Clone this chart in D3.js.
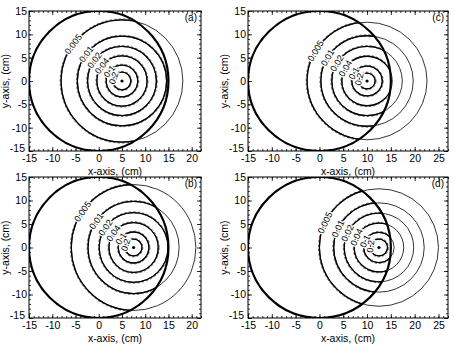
<!DOCTYPE html>
<html><head><meta charset="utf-8">
<script src="https://cdn.jsdelivr.net/npm/d3@7"></script>
<style>
body{margin:0;background:#fff}
svg{display:block}
text{font-family:Arial,"Liberation Sans",sans-serif;fill:#000}
</style>
</head><body>
<svg id="chart" width="455" height="346"></svg>
<script>
// ---------------- data ----------------
const panelLabels = ["(a)", "(b)", "(c)", "(d)"];
const sourceX = [5, 7.5, 10, 12.5];              // centre of the concentric contours (cm)
const contourLevels = ["0.005", "0.01", "0.02", "0.04", "0.1", "0.2"];
const radiiA = [13.1, 9.6, 7.4, 5.4, 3.4, 1.9];
const radiiB = [13.4, 9.8, 7.4, 5.3, 3.3, 1.8];
const radiiC = [12.6, 9.7, 7.4, 5.3, 3.2, 1.7];
const radiiD = [12.5, 9.5, 7.3, 5.2, 3.2, 1.8];
const panelRadii = [radiiA, radiiB, radiiC, radiiD];
const boundaryRadius = 15;                       // thick circle centred at origin
const xTicksNarrow = [-15, -10, -5, 0, 5, 10, 15, 20];
const xTicksWide = [-15, -10, -5, 0, 5, 10, 15, 20, 25];
const yTicks = [-15, -10, -5, 0, 5, 10, 15];
const xAxisTitle = "x-axis, (cm)";
const yAxisTitle = "y-axis, (cm)";

// ---------------- layout ----------------
const layout = [
  {L: 29,  R: 201, T: 11,  B: 151, xmax: 22, ticks: xTicksNarrow, angle: 143},
  {L: 29,  R: 201, T: 177, B: 318, xmax: 22, ticks: xTicksNarrow, angle: 145},
  {L: 248, R: 448, T: 11,  B: 151, xmax: 27, ticks: xTicksWide,   angle: 149},
  {L: 248, R: 448, T: 177, B: 318, xmax: 27, ticks: xTicksWide,   angle: 155}
];

const svg = d3.select("#chart");
const defs = svg.append("defs");

layout.forEach((p, i) => {
  const x = d3.scaleLinear().domain([-15, p.xmax]).range([p.L, p.R]);
  const y = d3.scaleLinear().domain([-15, 15]).range([p.B, p.T]);
  const g = svg.append("g");

  defs.append("clipPath").attr("id", "plot" + i)
    .append("rect").attr("x", p.L).attr("y", p.T).attr("width", p.R - p.L).attr("height", p.B - p.T);
  defs.append("clipPath").attr("id", "inside" + i)
    .append("ellipse").attr("cx", x(0)).attr("cy", y(0))
    .attr("rx", x(boundaryRadius) - x(0)).attr("ry", y(0) - y(boundaryRadius));

  const plot = g.append("g").attr("clip-path", `url(#plot${i})`);
  const radii = panelRadii[i];
  const cx = sourceX[i];
  const rx = r => x(cx + r) - x(cx);
  const ry = r => y(0) - y(r);

  // analytic (solid) circles
  plot.selectAll("ellipse.sol").data(radii).join("ellipse")
    .attr("class", "sol")
    .attr("cx", x(cx)).attr("cy", y(0))
    .attr("rx", rx).attr("ry", ry)
    .attr("fill", "none").attr("stroke", "#000").attr("stroke-width", 0.8);

  // numerical (dashed) contours inside the boundary, overlapping the solid ones
  const inner = plot.append("g").attr("clip-path", `url(#inside${i})`);
  inner.selectAll("ellipse.in").data(radii).join("ellipse")
    .attr("class", "in")
    .attr("cx", x(cx)).attr("cy", y(0))
    .attr("rx", rx).attr("ry", ry)
    .attr("fill", "none").attr("stroke", "#000").attr("stroke-width", 1.3);
  inner.selectAll("ellipse.dash").data(radii).join("ellipse")
    .attr("class", "dash")
    .attr("cx", x(cx)).attr("cy", y(0))
    .attr("rx", r => rx(r) + 0.9).attr("ry", r => ry(r) + 0.9)
    .attr("fill", "none").attr("stroke", "#222").attr("stroke-width", 0.7)
    .attr("stroke-dasharray", "2.5,2");

  // boundary circle
  plot.append("ellipse")
    .attr("cx", x(0)).attr("cy", y(0))
    .attr("rx", x(boundaryRadius) - x(0)).attr("ry", y(0) - y(boundaryRadius))
    .attr("fill", "none").attr("stroke", "#000").attr("stroke-width", 2.2);

  // source point
  plot.append("circle").attr("cx", x(cx)).attr("cy", y(0)).attr("r", 1.6).attr("fill", "#000");

  // contour labels (tangent to circles)
  const a = p.angle * Math.PI / 180;
  plot.selectAll("text.lab").data(radii).join("text")
    .attr("class", "lab")
    .attr("transform", (r, k) => {
      const ang = k === radii.length - 1 ? a + 0.3 : a;
      const px = x(cx + r * Math.cos(ang)), py = y(r * Math.sin(ang));
      return `translate(${px},${py}) rotate(${90 - ang * 180 / Math.PI})`;
    })
    .attr("text-anchor", "middle").attr("dy", "0.35em")
    .attr("font-size", 9)
    .attr("stroke", "#fff").attr("stroke-width", 2.5).attr("paint-order", "stroke")
    .text((r, k) => contourLevels[k]);

  // axes: major & minor, inward, on all sides
  const minorX = d3.range(-15, p.xmax + 0.001, 1);
  const minorY = d3.range(-15, 15.001, 1);
  const fmt = d => d3.format("d")(d).replace("\u2212", "-");

  g.append("g").attr("transform", `translate(0,${p.B})`)
    .call(d3.axisBottom(x).tickValues(p.ticks).tickSize(-4).tickSizeOuter(0).tickPadding(4).tickFormat(fmt));
  g.append("g").attr("transform", `translate(0,${p.B})`)
    .call(d3.axisBottom(x).tickValues(minorX).tickSize(-2).tickSizeOuter(0).tickFormat(""));
  g.append("g").attr("transform", `translate(0,${p.T})`)
    .call(d3.axisTop(x).tickValues(p.ticks).tickSize(-4).tickSizeOuter(0).tickFormat(""));
  g.append("g").attr("transform", `translate(0,${p.T})`)
    .call(d3.axisTop(x).tickValues(minorX).tickSize(-2).tickSizeOuter(0).tickFormat(""));
  const left = g.append("g").attr("transform", `translate(${p.L},0)`)
    .call(d3.axisLeft(y).tickValues(yTicks).tickSize(-4).tickSizeOuter(0).tickPadding(2).tickFormat(fmt));
  g.append("g").attr("transform", `translate(${p.L},0)`)
    .call(d3.axisLeft(y).tickValues(minorY).tickSize(-2).tickSizeOuter(0).tickFormat(""));
  g.append("g").attr("transform", `translate(${p.R},0)`)
    .call(d3.axisRight(y).tickValues(yTicks).tickSize(-4).tickSizeOuter(0).tickFormat(""));
  g.append("g").attr("transform", `translate(${p.R},0)`)
    .call(d3.axisRight(y).tickValues(minorY).tickSize(-2).tickSizeOuter(0).tickFormat(""));
  g.selectAll(".domain").remove();
  g.selectAll(".tick line").attr("stroke", "#000").attr("stroke-width", 0.8);
  g.selectAll(".tick text").attr("font-size", 10.5).attr("font-family", "Arial, 'Liberation Sans', sans-serif").attr("fill", "#000");
  // lowest y label sits slightly higher and to the left, as in the original
  left.selectAll(".tick text").filter(d => d === -15).attr("dy", "0.05em").attr("x", -4);

  // frame
  g.append("rect").attr("x", p.L).attr("y", p.T).attr("width", p.R - p.L).attr("height", p.B - p.T)
    .attr("fill", "none").attr("stroke", "#000").attr("stroke-width", 1);

  // panel label
  g.append("text").attr("x", p.R - 4).attr("y", p.T + 10).attr("text-anchor", "end")
    .attr("font-size", 10).text(panelLabels[i]);

  // axis titles
  g.append("text").attr("x", (p.L + p.R) / 2).attr("y", p.B + 24).attr("text-anchor", "middle")
    .attr("font-size", 10.5).text(xAxisTitle);
  g.append("text").attr("transform", `translate(${p.L - 20},${(p.T + p.B) / 2}) rotate(-90)`)
    .attr("text-anchor", "middle").attr("font-size", 10.5).text(yAxisTitle);
});
</script>
</body></html>
